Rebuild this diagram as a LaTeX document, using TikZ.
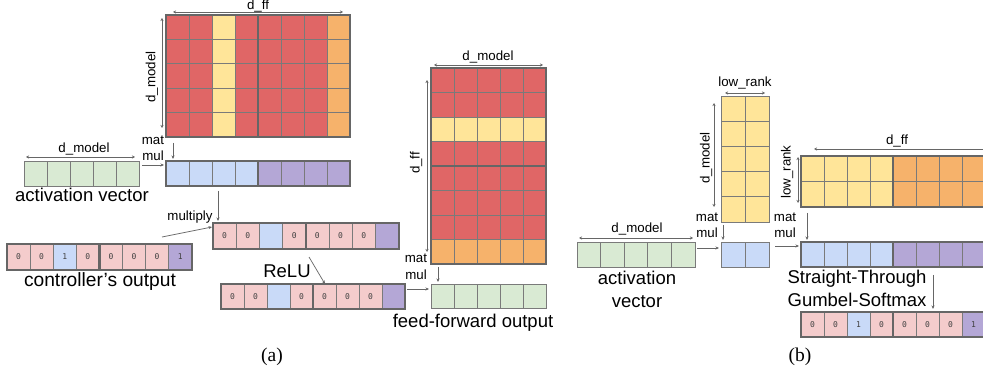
\documentclass[tikz,border=0pt]{standalone}
\usepackage{fontspec}
\setmainfont{Liberation Sans}
\newfontfamily\capfont{Liberation Serif}
\newfontfamily\digitfont{DejaVu Sans Mono}
\usetikzlibrary{arrows.meta}

\definecolor{wred}{HTML}{E06666}
\definecolor{wyellow}{HTML}{FFE599}
\definecolor{worange}{HTML}{F6B26B}
\definecolor{vgreen}{HTML}{D9EAD3}
\definecolor{vblue}{HTML}{C9DAF8}
\definecolor{vpurple}{HTML}{B4A7D6}
\definecolor{vpink}{HTML}{F4CCCC}
\definecolor{gridgray}{HTML}{7A7A7A}
\definecolor{edgegray}{HTML}{666666}

\tikzset{
  cellline/.style={draw=gridgray, line width=0.9pt},
  groupline/.style={draw=edgegray, line width=2.2pt},
  blk/.style={inner sep=0pt, outer sep=0pt, draw=none, anchor=north west},
  dimline/.style={draw=edgegray, line width=0.7pt,
    {Stealth[length=3pt,width=3pt]}-{Stealth[length=3pt,width=3pt]}},
  flow/.style={draw=edgegray, line width=0.7pt, -{Stealth[length=3.5pt,width=3pt]}},
  small/.style={font=\fontsize{13.3}{16}\selectfont, inner sep=0pt},
  big/.style={font=\fontsize{18.5}{23}\selectfont, inner sep=0pt},
  bit/.style={font=\digitfont\fontsize{8}{8}\selectfont, text=black!75, inner sep=0pt},
  caption/.style={font=\capfont\fontsize{19.5}{22}\selectfont, inner sep=0pt},
}

% grid whose colour changes from column to column
% #1 name, #2 x, #3 y, #4 columns, #5 rows, #6 cell width, #7 cell height, #8 colours
\newcommand\colgrid[8]{%
  \foreach \c [count=\i from 0] in {#8} {
    \foreach \j in {1,...,#5} {
      \filldraw[cellline, fill=\c] ({#2+\i*#6},{#3+(\j-1)*#7}) rectangle ++(#6,#7);
    }
  }
  \node[blk, minimum width={#4*#6*1pt}, minimum height={#5*#7*1pt}] (#1) at (#2,#3) {};
}
% grid whose colour changes from row to row
\newcommand\rowgrid[8]{%
  \foreach \c [count=\j from 0] in {#8} {
    \foreach \i in {1,...,#4} {
      \filldraw[cellline, fill=\c] ({#2+(\i-1)*#6},{#3+\j*#7}) rectangle ++(#6,#7);
    }
  }
  \node[blk, minimum width={#4*#6*1pt}, minimum height={#5*#7*1pt}] (#1) at (#2,#3) {};
}
% one row of cells, each with a fill and a printed value
% #1 name, #2 x, #3 y, #4 cells, #5 cell width, #6 cell height, #7 colour/value list
\newcommand\bitvec[7]{%
  \foreach \c/\t [count=\i from 0] in {#7} {
    \filldraw[cellline, fill=\c] ({#2+\i*#5},#3) rectangle ++(#5,#6);
    \node[bit] at ({#2+(\i+0.5)*#5},{#3+0.5*#6}) {\t};
  }
  \node[blk, minimum width={#4*#5*1pt}, minimum height={#6*1pt}] (#1) at (#2,#3) {};
}

\begin{document}
\begin{tikzpicture}[x=1pt, y=-1pt]
\clip (0,0) rectangle (983,379);
\fill[white] (0,0) rectangle (983,379);

% ---------------- (a) ----------------
% first feed-forward weight matrix
\colgrid{wone}{166}{15}{8}{5}{23}{24.4}{wred,wred,wyellow,wred,wred,wred,wred,worange}
\draw[groupline] (166,15) rectangle ++(92,122);
\draw[groupline] (258,15) rectangle ++(92,122);
\draw[dimline] (173,12) -- (343,12);
\node[small, anchor=base] at (258,9.6) {d\_ff};
\draw[dimline] (162,18) -- (162,128);
\node[small, rotate=90] at (152,77) {d\_model};

% input activation
\colgrid{actA}{24}{161}{5}{1}{23}{25}{vgreen,vgreen,vgreen,vgreen,vgreen}
\draw[dimline] (26,157) -- (135,157);
\node[small, anchor=base] at (84,153) {d\_model};
\node[big, anchor=base] at (82,202) {activation vector};

% hidden pre-activation
\colgrid{hidA}{166}{161}{8}{1}{23}{25}{vblue,vblue,vblue,vblue,vpurple,vpurple,vpurple,vpurple}
\draw[groupline] (166,161) rectangle ++(92,25);
\draw[groupline] (258,161) rectangle ++(92,25);
\node[small, anchor=base] at (153,145) {mat};
\node[small, anchor=base] at (153,161) {mul};
\coordinate (mmA1) at (173,143);
\coordinate (mmA1e) at (173,159);
\draw[flow] (mmA1) -- (mmA1e);
\coordinate (actAo) at (142,165);
\coordinate (hidAi) at (164,165);
\draw[flow] (actAo) -- (hidAi);

% controller output
\bitvec{ctrl}{7}{244}{8}{23.1}{26}{vpink/0,vpink/0,vblue/1,vpink/0,vpink/0,vpink/0,vpink/0,vpurple/1}
\draw[groupline] (7,244) rectangle ++(92.4,26);
\draw[groupline] (99.4,244) rectangle ++(92.4,26);
\node[big, anchor=base, font=\fontsize{19.2}{23}\selectfont] at (100,287) {controller’s output};

% masked hidden vector
\bitvec{mask}{213}{223}{8}{23.2}{26}{vpink/0,vpink/0,vblue/{},vpink/0,vpink/0,vpink/0,vpink/0,vpurple/{}}
\draw[groupline] (213,223) rectangle ++(92.8,26);
\draw[groupline] (305.8,223) rectangle ++(92.8,26);
\coordinate (hidAo) at (218,191);
\coordinate (maskAi) at (218,221);
\draw[flow] (hidAo) -- (maskAi);
\node[small, anchor=base] at (190,221) {multiply};
\coordinate (ctrlo) at (162,237);
\coordinate (maskci) at (212,227);
\draw[flow] (ctrlo) -- (maskci);

% after ReLU
\bitvec{relu}{221}{284}{8}{23}{25}{vpink/0,vpink/0,vblue/{},vpink/0,vpink/0,vpink/0,vpink/0,vpurple/{}}
\draw[groupline] (221,284) rectangle ++(92,25);
\draw[groupline] (313,284) rectangle ++(92,25);
\node[big, anchor=base] at (287,278) {ReLU};
\coordinate (masko) at (309,257);
\coordinate (relui) at (325,284);
\draw[flow] (masko) -- (relui);

% second feed-forward weight matrix
\rowgrid{wtwo}{431}{68}{5}{8}{23}{24.5}{wred,wred,wyellow,wred,wred,wred,wred,worange}
\draw[groupline] (431,68) rectangle ++(115,98);
\draw[groupline] (431,166) rectangle ++(115,98);
\draw[dimline] (434,65) -- (543,65);
\node[small, anchor=base] at (488,61) {d\_model};
\draw[dimline] (427,80) -- (427,252);
\node[small, rotate=90] at (416,163) {d\_ff};

% feed-forward output
\colgrid{ffo}{431}{284}{5}{1}{23}{24}{vgreen,vgreen,vgreen,vgreen,vgreen}
\node[small, anchor=base] at (416,263) {mat};
\node[small, anchor=base] at (416,280) {mul};
\coordinate (mmA2) at (438,267);
\coordinate (mmA2e) at (438,282);
\draw[flow] (mmA2) -- (mmA2e);
\coordinate (reluo) at (407,289);
\coordinate (ffoi) at (429,289);
\draw[flow] (reluo) -- (ffoi);
\node[big, anchor=base] at (473,328) {feed-forward output};

\node[caption] at (272,357) {(a)};

% ---------------- (b) ----------------
% low-rank down projection
\colgrid{lowA}{721}{96}{2}{5}{24}{25.2}{wyellow,wyellow}
\draw[dimline] (725,93) -- (765,93);
\node[small, anchor=base] at (745,87) {low\_rank};
\draw[dimline] (714,103) -- (714,207);
\node[small, rotate=90] at (706,158) {d\_model};

% input activation
\colgrid{actB}{577}{242}{5}{1}{23.6}{25}{vgreen,vgreen,vgreen,vgreen,vgreen}
\draw[dimline] (579,238) -- (693,238);
\node[small, anchor=base] at (637,233) {d\_model};
\node[big, anchor=base] at (637,285) {activation};
\node[big, anchor=base] at (637,308) {vector};

% low-rank code
\colgrid{code}{721}{242}{2}{1}{24}{25}{vblue,vblue}
\node[small, anchor=base] at (707,222) {mat};
\node[small, anchor=base] at (707,238) {mul};
\coordinate (mmB1) at (723,225);
\coordinate (mmB1e) at (723,240);
\draw[flow] (mmB1) -- (mmB1e);
\coordinate (actBo) at (697,248);
\coordinate (codei) at (719,248);
\draw[flow] (actBo) -- (codei);

% low-rank up projection
\colgrid{lowB}{801}{156}{8}{2}{23}{25.5}{wyellow,wyellow,wyellow,wyellow,worange,worange,worange,worange}
\draw[groupline] (801,156) rectangle ++(92,51);
\draw[groupline] (893,156) rectangle ++(92,51);
\draw[dimline] (814,149) -- (995,149);
\node[small, anchor=base] at (897,145) {d\_ff};
\draw[dimline] (798,157) -- (798,203);
\node[small, rotate=90] at (787,172) {low\_rank};

% predicted scores
\colgrid{hidB}{801}{242}{8}{1}{23}{25}{vblue,vblue,vblue,vblue,vpurple,vpurple,vpurple,vpurple}
\draw[groupline] (801,242) rectangle ++(92,25);
\draw[groupline] (893,242) rectangle ++(92,25);
\node[small, anchor=base] at (785,222) {mat};
\node[small, anchor=base] at (785,238) {mul};
\coordinate (mmB2) at (807,213);
\coordinate (mmB2e) at (807,240);
\draw[flow] (mmB2) -- (mmB2e);
\coordinate (codeo) at (775,246);
\coordinate (hidBi) at (799,246);
\draw[flow] (codeo) -- (hidBi);

% binary gate
\node[big, anchor=base] at (857,284) {Straight-Through};
\node[big, anchor=base] at (857,307) {Gumbel-Softmax};
\bitvec{gate}{801}{312}{8}{23}{25}{vpink/0,vpink/0,vblue/1,vpink/0,vpink/0,vpink/0,vpink/0,vpurple/1}
\draw[groupline] (801,312) rectangle ++(92,25);
\draw[groupline] (893,312) rectangle ++(92,25);
\coordinate (gumbo) at (933,275);
\coordinate (gatei) at (933,309);
\draw[flow] (gumbo) -- (gatei);

\node[caption] at (800,357) {(b)};
\end{tikzpicture}
\end{document}
